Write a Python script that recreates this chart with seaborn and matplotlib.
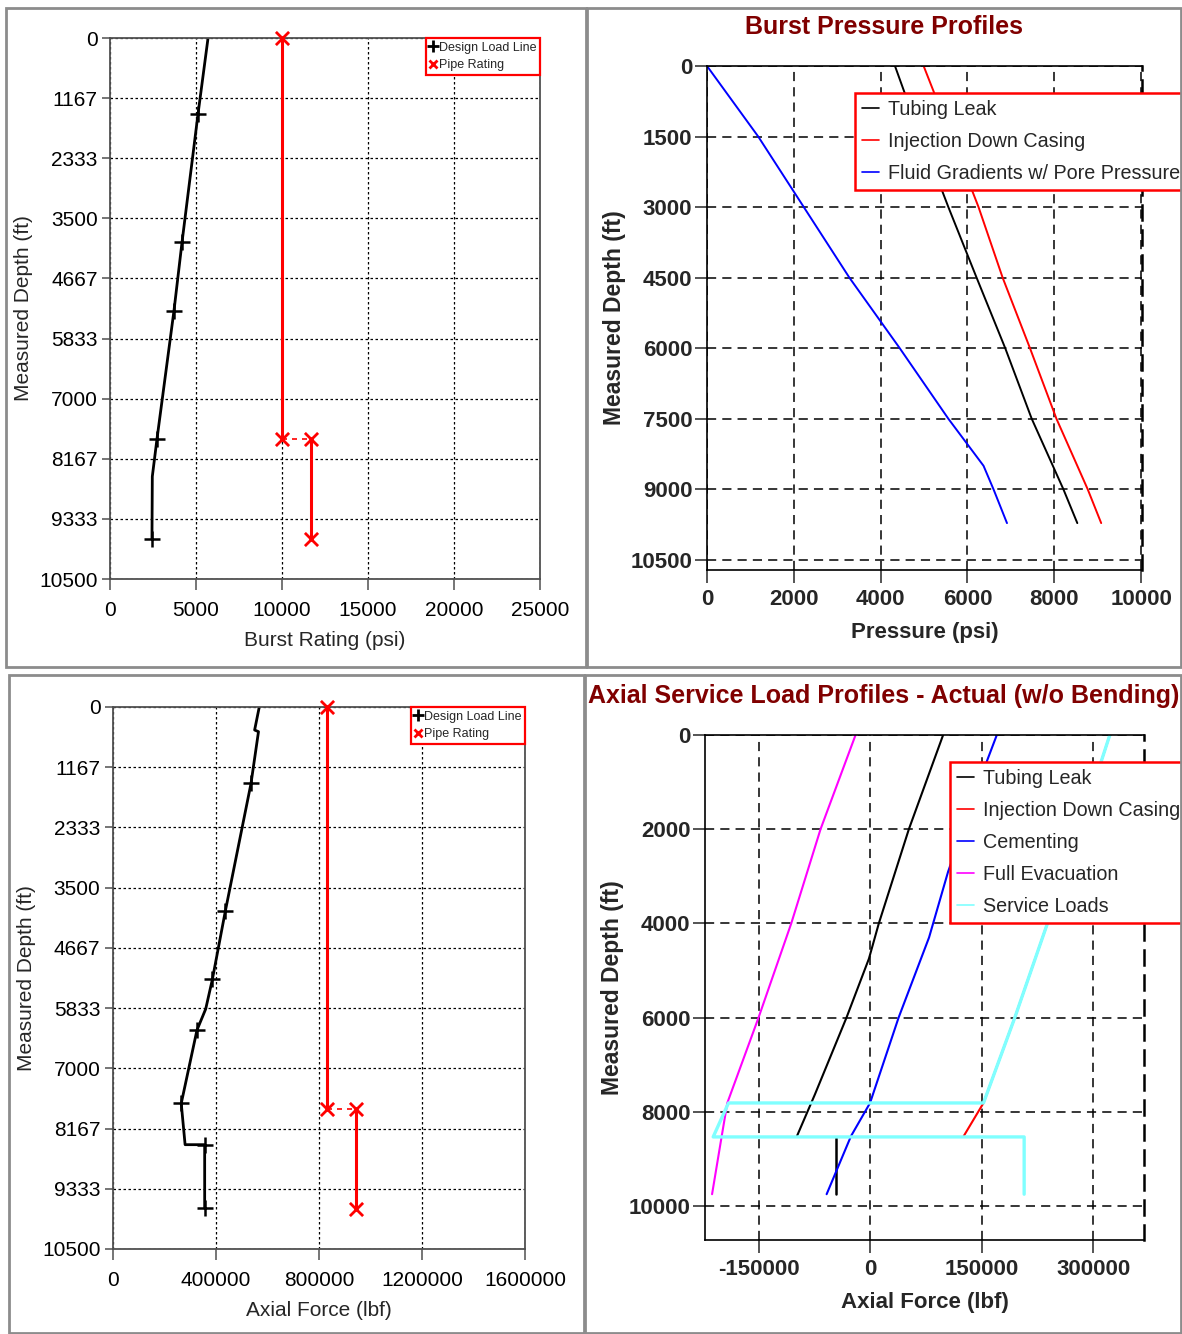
"""
Casing design load profiles - burst and axial (4 panels)
"""
import matplotlib
matplotlib.use("Agg")
import matplotlib.pyplot as plt
from matplotlib.lines import Line2D
from matplotlib.patches import Rectangle
from matplotlib.ticker import FuncFormatter
import seaborn as sns

OUT_PATH = "out.png"

# --- top-left: burst design load vs pipe rating ---
BURST_YTICKS = [0, 1167, 2333, 3500, 4667, 5833, 7000, 8167, 9333, 10500]
BURST_XTICKS = [0, 5000, 10000, 15000, 20000, 25000]
BURST_LOAD_DEPTH = [0, 1478, 3967, 5289, 7778, 8510, 9722]
BURST_LOAD = [5700, 5116, 4186, 3721, 2733, 2460, 2440]
BURST_MARK_DEPTH = [1478, 3967, 5289, 7778, 9722]
BURST_MARK_LOAD = [5116, 4186, 3721, 2733, 2440]
BURST_RATING_DEPTH = [0, 7780, 7780, 9720]
BURST_RATING = [10000, 10000, 11670, 11670]

# --- top-right: burst pressure profiles ---
PRESS_XTICKS = [0, 2000, 4000, 6000, 8000, 10000]
PRESS_YTICKS = [0, 1500, 3000, 4500, 6000, 7500, 9000, 10500]
TUBING_LEAK_DEPTH = [0, 564, 3000, 4500, 6000, 7500, 9000, 9718]
TUBING_LEAK_P = [4330, 4550, 5560, 6210, 6870, 7480, 8210, 8530]
INJ_CASING_DEPTH = [0, 564, 3000, 4500, 6000, 7500, 9000, 9718]
INJ_CASING_P = [4990, 5230, 6255, 6810, 7440, 8050, 8770, 9080]
FLUID_GRAD_DEPTH = [0, 1500, 3000, 4500, 6000, 7500, 8500, 9000, 9718]
FLUID_GRAD_P = [0, 1180, 2230, 3280, 4440, 5560, 6370, 6600, 6910]

# --- bottom-left: axial design load vs pipe rating ---
AXIAL_XTICKS = [0, 400000, 800000, 1200000, 1600000]
AXIAL_LOAD_DEPTH = [0, 446, 478, 1479, 3960, 5275, 5850, 6261, 7680, 8479, 8479, 9712]
AXIAL_LOAD = [568000, 550000, 565000, 536000, 436000, 386000, 360000, 326000,
              265000, 280000, 356000, 356000]
AXIAL_MARK_DEPTH = [1479, 3960, 5275, 6261, 7680, 8479, 9712]
AXIAL_MARK_LOAD = [536000, 436000, 386000, 326000, 265000, 356000, 356000]
AXIAL_RATING_DEPTH = [0, 7788, 7788, 9728]
AXIAL_RATING = [830000, 830000, 943000, 943000]

# --- bottom-right: axial service load profiles ---
SVC_XTICKS = [-150000, 0, 150000, 300000]
SVC_YTICKS = [0, 2000, 4000, 6000, 8000, 10000]
SVC_TUBING_DEPTH = [0, 2000, 4000, 4748, 6000, 7631, 8514]
SVC_TUBING = [98300, 52200, 11800, -1500, -31700, -74200, -98300]
SVC_TUBING_TAIL_DEPTH = [8559, 9748]
SVC_TUBING_TAIL = [-46000, -46000]
SVC_INJ_DEPTH = [0, 559, 4027, 6009, 7811, 8514]
SVC_INJ = [322500, 311000, 238000, 194500, 152600, 126000]
SVC_CEMENT_DEPTH = [0, 604, 2901, 4297, 5468, 6000, 7811, 8514, 9748]
SVC_CEMENT = [170500, 156000, 105000, 79400, 51200, 38400, 0, -25600, -58400]
SVC_EVAC_DEPTH = [0, 2000, 4000, 6000, 7811, 8532, 9748]
SVC_EVAC = [-19500, -66600, -106000, -150000, -192000, -199700, -212500]
SVC_LOADS_DEPTH = [0, 559, 4027, 6009, 7811, 7811, 8532, 8532, 9748]
SVC_LOADS = [322500, 311000, 238000, 194500, 152600, -190400, -211000, 207300, 207300]

DARK_RED = "#800000"
CYAN = "#80ffff"

sns.set_theme(style="ticks")
plt.rcParams["font.family"] = ["Liberation Sans", "DejaVu Sans"]
plt.rcParams["axes.unicode_minus"] = False

W, H = 1182, 1334


def px_axes(fig, left, top, right, bottom):
    return fig.add_axes([left / W, 1 - bottom / H, (right - left) / W, (bottom - top) / H])


def draw(ax, x, y, color, lw, ls="-"):
    sns.lineplot(x=x, y=y, ax=ax, color=color, linewidth=lw, linestyle=ls,
                 sort=False, estimator=None)


def plain_fmt(v, p):
    return f"{v:.0f}"


def style_rating_axes(ax, xticks, xlabel):
    ax.set_xticks(xticks)
    ax.set_yticks(BURST_YTICKS)
    ax.set_xlim(xticks[0], xticks[-1])
    ax.set_ylim(10500, 0)
    ax.xaxis.set_major_formatter(FuncFormatter(plain_fmt))
    ax.grid(True, color="black", linestyle=(0, (2, 2)), linewidth=0.9)
    ax.set_axisbelow(True)
    for s in ax.spines.values():
        s.set_color("#505050")
        s.set_linewidth(1.3)
        s.set_visible(True)
    ax.tick_params(axis="both", direction="out", width=1.1, labelsize=15,
                   colors="#505050", labelcolor="black")
    ax.tick_params(axis="x", length=8, pad=8)
    ax.tick_params(axis="y", length=6, pad=3)
    ax.set_xlabel(xlabel, fontsize=15, labelpad=8)
    ax.set_ylabel("Measured Depth (ft)", fontsize=15, labelpad=4)


def style_profile_axes(ax, xticks, yticks, xlim, ylim, xlabel):
    ax.set_xticks(xticks)
    ax.set_yticks(yticks)
    ax.set_xlim(*xlim)
    ax.set_ylim(*ylim)
    ax.xaxis.set_major_formatter(FuncFormatter(plain_fmt))
    ax.grid(True, color="black", linestyle=(0, (6, 4)), linewidth=1.1)
    ax.set_axisbelow(True)
    for s in ax.spines.values():
        s.set_color("black")
        s.set_linewidth(1.2)
        s.set_visible(True)
    ax.spines["right"].set_linestyle((0, (6, 4)))
    ax.spines["right"].set_linewidth(1.8)
    ax.tick_params(axis="both", direction="out", width=1.1, labelsize=16)
    ax.tick_params(axis="x", length=9, pad=5)
    ax.tick_params(axis="y", length=8.5, pad=2)
    for lab in ax.get_xticklabels() + ax.get_yticklabels():
        lab.set_fontweight("bold")
    ax.set_xlabel(xlabel, fontsize=16, fontweight="bold", labelpad=8)
    ax.set_ylabel("Measured Depth (ft)", fontsize=16.5, fontweight="bold", labelpad=3)


def small_legend(ax):
    handles = [
        Line2D([], [], color="black", marker="+", linestyle="none", markersize=8, markeredgewidth=2),
        Line2D([], [], color="red", marker="x", linestyle="none", markersize=5.5, markeredgewidth=2),
    ]
    leg = ax.legend(handles, ["Design Load Line", "Pipe Rating"], loc="upper right",
                    bbox_to_anchor=(1.0, 1.0), borderaxespad=0, fontsize=9, fancybox=False,
                    handlelength=0.4, handletextpad=0.3, borderpad=0.3, labelspacing=0.45,
                    framealpha=1)
    leg.get_frame().set_edgecolor("red")
    leg.get_frame().set_linewidth(1.6)


def big_legend(ax, labels, colors, anchor):
    handles = [Line2D([], [], color=c, linewidth=1.2) for c in colors]
    leg = ax.legend(handles, labels, loc="upper left", bbox_to_anchor=anchor,
                    borderaxespad=0, fontsize=14.2, fancybox=False, handlelength=0.85,
                    handletextpad=0.5, borderpad=0.35, labelspacing=0.66, framealpha=1)
    leg.get_frame().set_edgecolor("red")
    leg.get_frame().set_linewidth(1.8)


def plot():
    fig = plt.figure(figsize=(W / 100, H / 100), dpi=100)

    # panel frames
    for x0, y0, x1, y1 in [(6, 8, 586, 667), (587, 8, 1181, 667),
                           (9, 675, 584, 1333), (585, 675, 1181, 1333)]:
        fig.add_artist(Rectangle((x0 / W, 1 - y1 / H), (x1 - x0) / W, (y1 - y0) / H,
                                 transform=fig.transFigure, fill=False,
                                 edgecolor="#8c8c8c", linewidth=2))

    # --- 1. burst design load ---
    ax1 = px_axes(fig, 110, 38, 540, 579)
    draw(ax1, BURST_LOAD, BURST_LOAD_DEPTH, "black", 2.0)
    draw(ax1, BURST_RATING[:2], BURST_RATING_DEPTH[:2], "red", 2.2)
    draw(ax1, BURST_RATING[1:3], BURST_RATING_DEPTH[1:3], "red", 1.2, (0, (3, 3)))
    draw(ax1, BURST_RATING[2:], BURST_RATING_DEPTH[2:], "red", 2.2)
    sns.scatterplot(x=BURST_MARK_LOAD, y=BURST_MARK_DEPTH, ax=ax1, marker="+",
                    color="black", s=130, linewidth=1.8, clip_on=False, zorder=5)
    sns.scatterplot(x=BURST_RATING, y=BURST_RATING_DEPTH, ax=ax1, marker="x",
                    color="red", s=90, linewidth=2.0, clip_on=False, zorder=5)
    style_rating_axes(ax1, BURST_XTICKS, "Burst Rating (psi)")
    small_legend(ax1)

    # --- 2. burst pressure profiles ---
    ax2 = px_axes(fig, 707, 66, 1142, 570)
    draw(ax2, TUBING_LEAK_P, TUBING_LEAK_DEPTH, "black", 1.4)
    draw(ax2, INJ_CASING_P, INJ_CASING_DEPTH, "red", 1.4)
    draw(ax2, FLUID_GRAD_P, FLUID_GRAD_DEPTH, "blue", 1.4)
    style_profile_axes(ax2, PRESS_XTICKS, PRESS_YTICKS, (0, 10020), (10715, 0), "Pressure (psi)")
    big_legend(ax2, ["Tubing Leak", "Injection Down Casing", "Fluid Gradients w/ Pore Pressure"],
               ["black", "red", "blue"], (0.34, 0.946))
    fig.text(884 / W, 1 - 27 / H, "Burst Pressure Profiles", ha="center", va="center",
             fontsize=18, fontweight="bold", color=DARK_RED)

    # --- 3. axial design load ---
    ax3 = px_axes(fig, 113, 707, 525, 1249)
    draw(ax3, AXIAL_LOAD, AXIAL_LOAD_DEPTH, "black", 2.0)
    draw(ax3, AXIAL_RATING[:2], AXIAL_RATING_DEPTH[:2], "red", 2.2)
    draw(ax3, AXIAL_RATING[1:3], AXIAL_RATING_DEPTH[1:3], "red", 1.2, (0, (3, 3)))
    draw(ax3, AXIAL_RATING[2:], AXIAL_RATING_DEPTH[2:], "red", 2.2)
    sns.scatterplot(x=AXIAL_MARK_LOAD, y=AXIAL_MARK_DEPTH, ax=ax3, marker="+",
                    color="black", s=130, linewidth=1.8, clip_on=False, zorder=5)
    sns.scatterplot(x=AXIAL_RATING, y=AXIAL_RATING_DEPTH, ax=ax3, marker="x",
                    color="red", s=90, linewidth=2.0, clip_on=False, zorder=5)
    style_rating_axes(ax3, AXIAL_XTICKS, "Axial Force (lbf)")
    small_legend(ax3)

    # --- 4. axial service load profiles ---
    ax4 = px_axes(fig, 705, 735, 1144, 1240)
    draw(ax4, SVC_INJ, SVC_INJ_DEPTH, "red", 1.5)
    draw(ax4, SVC_TUBING, SVC_TUBING_DEPTH, "black", 1.5)
    draw(ax4, SVC_TUBING_TAIL, SVC_TUBING_TAIL_DEPTH, "black", 1.8)
    draw(ax4, SVC_CEMENT, SVC_CEMENT_DEPTH, "blue", 1.5)
    draw(ax4, SVC_EVAC, SVC_EVAC_DEPTH, "magenta", 1.5)
    draw(ax4, SVC_LOADS, SVC_LOADS_DEPTH, CYAN, 2.4)
    style_profile_axes(ax4, SVC_XTICKS, SVC_YTICKS, (-222000, 368500), (10720, 0), "Axial Force (lbf)")
    big_legend(ax4, ["Tubing Leak", "Injection Down Casing", "Cementing", "Full Evacuation",
                     "Service Loads"],
               ["black", "red", "blue", "magenta", CYAN], (0.558, 0.9465))
    fig.text(884 / W, 1 - 696 / H, "Axial Service Load Profiles - Actual (w/o Bending)",
             ha="center", va="center", fontsize=18, fontweight="bold", color=DARK_RED)

    fig.savefig(OUT_PATH, dpi=100)


if __name__ == "__main__":
    plot()
